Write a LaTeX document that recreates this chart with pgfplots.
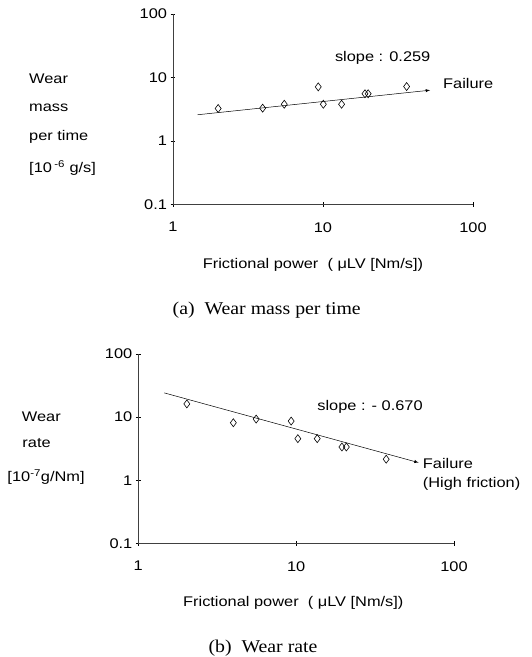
\documentclass[border=0pt]{standalone}
\usepackage{pgfplots}
\pgfplotsset{compat=1.18}
\usepackage{fontspec}
\setmainfont{Liberation Sans}[FakeStretch=1.17]
\newfontfamily\capfont{Liberation Serif}[FakeStretch=1.1]

\pgfplotsset{
  wearaxis/.style={
    scale only axis,
    xmin=1, xmax=100, ymin=0.1, ymax=100,
    axis lines=left,
    axis line style={-, black!75, line width=0.8pt},
    xtick={1,10,100}, ytick={0.1,1,10,100},
    xticklabels={1,10,100}, yticklabels={0.1,1,10,100},
    xminorticks=false, yminorticks=false,
    tick align=center, major tick length=5pt,
    tick style={black, line width=0.6pt},
    /pgf/number format/assume math mode=true,
    ticklabel style={font=\fontsize{14}{16}\selectfont},
    xticklabel style={yshift=-12pt},
    clip=false,
  },
  pts/.style={only marks, mark=diamond, mark size=4pt, mark options={black, line width=0.6pt}},
  fitline/.style={black, line width=0.5pt, ->, >=latex},
}

\begin{document}
\begin{tikzpicture}[x=1pt, y=1pt]
\useasboundingbox (0,0) rectangle (532,657);

% (a) wear mass per time
\begin{loglogaxis}[wearaxis, width=300pt, height=190.3pt, at={(173pt,452.7pt)}, anchor=south west]
\addplot[pts] coordinates {
  (2.0,3.24) (3.96,3.28) (5.52,3.78) (9.3,7.1) (10.05,3.78)
  (13.3,3.78) (19.05,5.53) (20.0,5.53) (36.1,7.18)};
\addplot[fitline] coordinates {(1.46,2.58) (51.7,6.29)};
\end{loglogaxis}

\begin{scope}[every node/.style={font=\fontsize{14}{16}\selectfont, inner sep=0pt}]
\node at (382.7,598.7) {slope : 0.259};
\node[anchor=west] at (443,573.7) {Failure};
\node[anchor=west] at (29,578) {Wear};
\node[anchor=west] at (29,549) {mass};
\node[anchor=west] at (29,520) {per time};
\node[anchor=west] at (29,489) {[10\,\textsuperscript{-6} g/s]};
\node at (313,392) {Frictional power\ \ ( μLV [Nm/s])};
\node[font=\capfont\fontsize{18}{20}\selectfont] at (266.7,347) {(a)\ \ Wear mass per time};
\end{scope}

% (b) wear rate
\begin{loglogaxis}[wearaxis, width=315.7pt, height=189.3pt, at={(138.3pt,113.7pt)}, anchor=south west]
\addplot[pts] coordinates {
  (2.03,16.2) (4.0,8.14) (5.58,9.3) (9.3,8.65) (10.25,4.55)
  (13.6,4.55) (19.5,3.36) (20.8,3.36) (37.2,2.15)};
\addplot[fitline] coordinates {(1.46,24.2) (59.7,1.90)};
\end{loglogaxis}

\begin{scope}[every node/.style={font=\fontsize{14}{16}\selectfont, inner sep=0pt}]
\node at (370,249.7) {slope : - 0.670};
\node[anchor=west] at (422.7,193.7) {Failure};
\node[anchor=west] at (422.7,173) {(High friction)};
\node[anchor=west] at (21.7,240) {Wear};
\node[anchor=west] at (22.3,213.7) {rate};
\node[anchor=west] at (7.3,180.3) {[10\textsuperscript{-7}g/Nm]};
\node at (293.3,54.3) {Frictional power\ \ ( μLV [Nm/s])};
\node[font=\capfont\fontsize{18}{20}\selectfont] at (263,8.7) {(b)\ \ Wear rate};
\end{scope}
\end{tikzpicture}
\end{document}
